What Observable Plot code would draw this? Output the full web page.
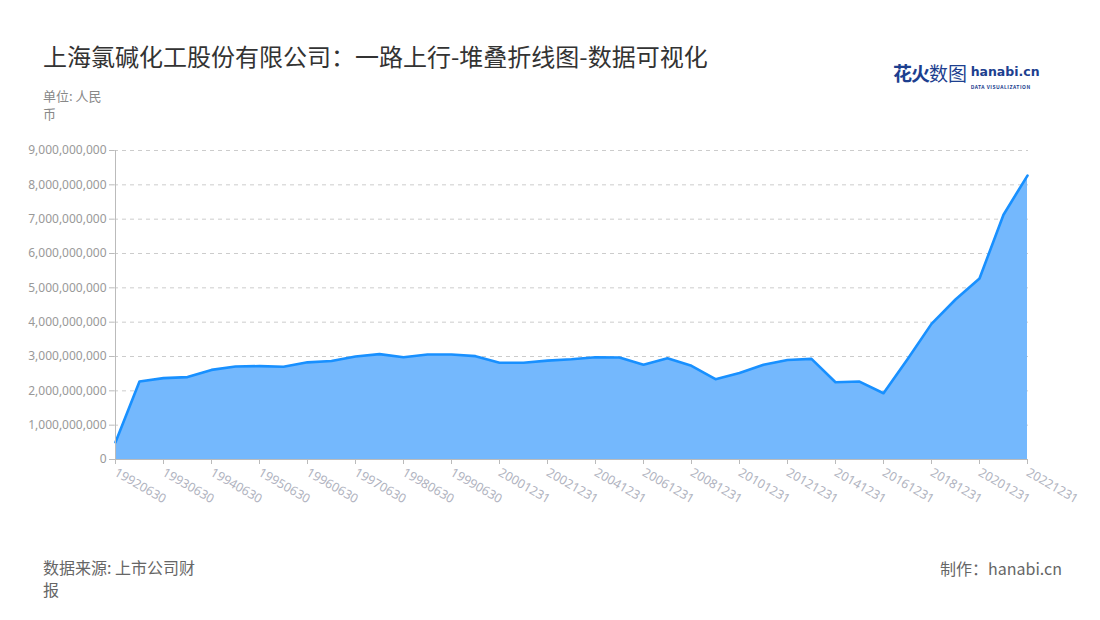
<!DOCTYPE html>
<html><head><meta charset="utf-8">
<script src="https://cdn.jsdelivr.net/npm/d3@7"></script>
<script src="https://cdn.jsdelivr.net/npm/@observablehq/plot@0.6"></script>
<style>
body{margin:0;background:#fff;font-family:"Noto Sans CJK SC","Noto Sans",sans-serif;}
#wrap{position:relative;width:1100px;height:620px;overflow:hidden;}
#title{position:absolute;left:43px;top:38px;font-size:24px;color:#333;white-space:nowrap;}
#unit{position:absolute;left:43px;top:87px;font-size:13px;color:#888;line-height:18px;}
#logo{position:absolute;left:893px;top:59px;white-space:nowrap;}
#chart{position:absolute;left:0;top:130px;}
#src{position:absolute;left:43px;top:556px;font-size:16px;color:#666;line-height:22px;}
#made{position:absolute;right:38px;top:556px;font-size:16px;color:#666;}
</style></head>
<body><div id="wrap">
<div id="title">上海氯碱化工股份有限公司：一路上行-堆叠折线图-数据可视化</div>
<div id="unit">单位: 人民<br>币</div>
<div id="logo"><span style="font-size:19px;font-weight:bold;color:#1d3f8f;letter-spacing:-1px">花火</span><span style="font-size:19px;color:#1d3f8f">数图</span> <span style="display:inline-block;vertical-align:top;line-height:10px;margin-top:5px"><span style="font-size:12.5px;font-weight:bold;color:#1d3f8f;font-family:'DejaVu Sans'">hanabi.cn</span><br><span style="font-size:5px;color:#1d3f8f;font-weight:bold;letter-spacing:0.5px">DATA VISUALIZATION</span></span></div>
<div id="chart"></div>
<div id="src">数据来源: 上市公司财<br>报</div>
<div id="made">制作：hanabi.cn</div>
</div>
<script>
const dates = ["19920630","19921231","19930630","19931231","19940630","19941231","19950630","19951231","19960630","19961231","19970630","19971231","19980630","19981231","19990630","19991231","20001231","20011231","20021231","20031231","20041231","20051231","20061231","20071231","20081231","20091231","20101231","20111231","20121231","20131231","20141231","20151231","20161231","20171231","20181231","20191231","20201231","20211231","20221231"];
const values = [0.50,2.27,2.37,2.40,2.61,2.71,2.72,2.70,2.83,2.87,3.00,3.07,2.98,3.06,3.06,3.01,2.82,2.82,2.88,2.92,2.98,2.97,2.76,2.95,2.73,2.34,2.52,2.76,2.90,2.93,2.25,2.27,1.93,2.92,3.95,4.66,5.27,7.13,8.27].map(v => v * 1e9);
const yTicks = [0,1e9,2e9,3e9,4e9,5e9,6e9,7e9,8e9,9e9];
const xTicks = dates.filter((d, i) => i % 2 === 0);

const data = dates.map((d, i) => ({date: d, value: values[i]}));
const fmt = d3.format(",");

const chart = Plot.plot({
  width: 1100,
  height: 399,
  marginLeft: 114,
  marginRight: 72,
  marginTop: 20,
  marginBottom: 70,
  style: {fontFamily: "'Noto Sans', sans-serif", fontSize: "12px", background: "transparent"},
  x: {type: "point", domain: dates, padding: 0},
  y: {domain: [0, 9e9]},
  marks: [
    Plot.gridY(yTicks.filter(d => d > 0), {stroke: "#ccc", strokeOpacity: 1, strokeDasharray: "4,4"}),
    Plot.areaY(data, {x: "date", y: "value", fill: "#74b8fd", fillOpacity: 1, curve: "linear"}),
    Plot.lineY(data, {x: "date", y: "value", stroke: "#1890ff", strokeWidth: 2.6, curve: "linear"}),
    Plot.ruleY([0], {stroke: "#bbb", strokeWidth: 1}),
    Plot.ruleX([dates[0]], {y1: 0, y2: 9e9, stroke: "#bbb", strokeWidth: 1}),
    Plot.axisY({ticks: yTicks, tickFormat: fmt, tickSize: 5, stroke: "#bbb", fill: "#999", tickPadding: 3, label: null}),
    Plot.axisX({ticks: xTicks, tickSize: 5, stroke: "#bbb", fill: "#b0b3c0", label: null, tickRotate: 30, textAnchor: "start", tickPadding: 7, fontSize: 12.5})
  ]
});
document.getElementById("chart").appendChild(chart);
</script>
</body></html>
